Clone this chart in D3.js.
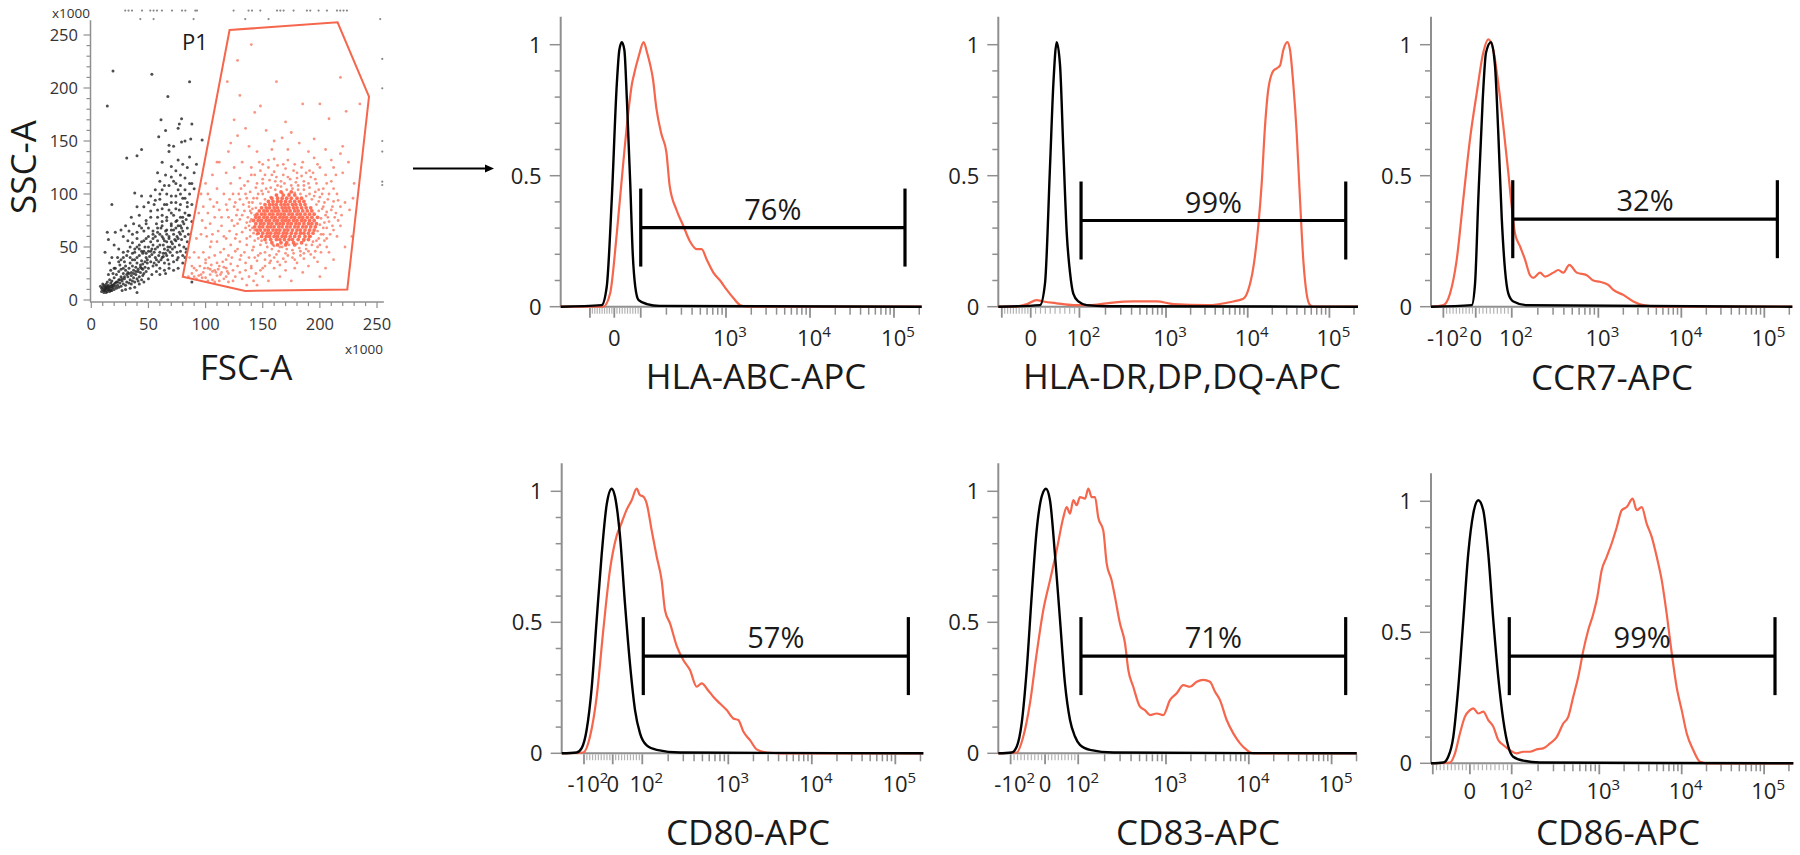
<!DOCTYPE html>
<html><head><meta charset="utf-8">
<script src="https://cdn.jsdelivr.net/npm/d3@7"></script>
<style>
body{margin:0;background:#fff}
svg{display:block}
text{font-family:"Open Sans","Noto Sans",sans-serif}
</style></head>
<body><svg id="chart" width="1800" height="855"></svg>
<script>
// ---------------- DATA ----------------
// Scatter (FSC-A vs SSC-A, x1000)
const scatterTicks = [0, 50, 100, 150, 200, 250];
const gateP1 = [[121,254.7],[215.5,262],[243,191.8],[224,10],[134.7,8.5],[80,22]];
const ungatedEvents = [
[9,8],[10,10],[11,7],[12,9],[13,11],[10,12],[12,13],[14,8],[15,10],[16,12],[11,9],[13,7],[14,13],[17,9],[18,11],[9,11],[12,11],[15,14],[16,8],[19,12],[20,10],[18,14],[21,13],[22,11],[13,15],[17,16],[20,15],[23,14],[24,12],[11,14],
[25,16],[26,13],[28,15],[27,18],[30,14],[31,17],[29,20],[33,16],[34,19],[32,22],[35,15],[36,18],[37,21],[38,17],[39,24],[40,20],[41,18],[42,22],[43,26],[44,19],[45,23],[26,22],[24,19],[22,17],[28,25],[30,28],[33,30],[35,26],[37,28],[39,31],[41,27],[43,33],[45,29],[46,25],[47,31],[48,27],[49,35],[50,30],[19,25],[17,28],[15,24],[21,30],[25,33],[29,36],[23,40],[31,42],[36,38],[40,40],[44,37],[48,40],[52,36],[54,32],[56,40],[55,45],[53,48],[50,46],[47,50],[45,44],[42,48],[38,45],[34,50],[32,56],[28,60],[36,62],[40,58],[44,55],[48,58],[52,55],[58,50],[60,45],[57,38],[62,40],[64,48],[66,55],[63,58],[60,62],[56,60],[54,65],[50,68],[46,65],[42,70],[48,75],[52,78],[57,72],[61,68],[65,65],[68,60],[70,55],[72,62],[74,68],[70,72],[66,75],[62,80],[58,85],[55,90],[60,95],[64,90],[68,85],[72,80],[75,75],[78,70],[80,65],[76,58],[73,50],[69,45],[66,42],[64,35],[60,30],[57,27],[53,24],[50,20],[46,17],[42,15],[38,12],[34,11],[30,10],[27,9],
[63,52],[67,50],[71,48],[75,45],[77,52],[79,57],[81,50],[83,45],[82,60],[84,68],[80,78],[77,85],[74,92],[70,98],[66,100],[62,104],[68,108],[72,112],[76,104],[80,96],[84,88],[86,80],[88,74],[85,62],[84,55],[83,48],[82,40],[80,35],[76,30],[72,28],[68,30],[65,25],
[78,118],[74,122],[82,115],[88,110],[90,120],[84,125],[80,128],[86,135],[92,128],[76,132],[70,126],[65,118],[60,112],[56,104],[52,98],[58,120],[62,130],[68,140],[72,145],[79,149],[87,152],[97,151],[19,216],[14,183],[53,213],[86,206],[67,192],[61,170],[79,171],[77,166],[65,160],[59,154],[68,146],[31,134],[40,136],[44,142],[82,150],[88,166],[76,162],[38,101],[18,90],[14,64],[21,64],[15,57],[12,45],[18,40],[16,35],[24,48],[20,52],[28,45],[26,38],[33,65],[37,72],[42,80],[46,88],[50,92],[44,98],[40,88],[35,78],[30,70],[26,66],[40,7],[88,17],
[54,58],[58,64],[62,70],[66,62],[70,66],[74,56],[78,62],[59,42],[63,44],[67,38],[71,42],[75,38],[36,32],[40,35],[44,30],[32,26],[28,30],[24,27],[20,21],[16,19],[14,17],[22,24],[18,18],[10,15],[8,13],[26,29],[34,35],[38,38],[42,42],[46,46],[50,50],[54,52],[58,56],[62,60],[66,66],[70,70],[74,74],[78,78],[82,82],
[12,10],[14,10],[16,10],[18,9],[13,12],[15,12],[17,13],[19,14],[21,16],[23,17],[25,19],[27,20],[29,22],[31,24],[33,25],[35,23],[37,25],[39,27],[41,29],[43,31],[45,34],[47,36],[49,38],[51,41],[53,43],[55,35],[57,33],[59,36],[61,38],[63,41],[65,44],[67,47],[69,50],[71,53],[73,57],[75,60],[77,64],[79,68],[81,72],[83,76],[85,80],
[30,32],[34,40],[38,48],[42,52],[46,56],[50,60],[54,62],[58,68],[62,74],[66,78],[70,82],[74,86],[78,90],[36,44],[40,50],[44,46],[48,44],[52,46],[56,48],[60,52],[64,56],[68,58],[72,66],[76,70],[80,74],[58,78],[62,86],[66,90],[70,92],[74,98],[78,100],[82,104],[86,100],[60,24],[64,28],[68,34],[72,36],[76,40],[78,46],[80,42],[20,30],[24,36],[28,40],[32,46],[36,54],[40,64],[44,68],[48,72],[52,84],[56,94],[60,100],[64,108],[70,116],[74,110],[78,108],[82,96],[84,92],[86,110],[90,105],[88,90]
];
const gatedEvents = [
[130,95],[135,100],[138,88],[132,80],[128,72],[135,68],[139,60],[136,52],[141,47],[146,42],[152,45],[158,48],[164,46],[170,44],[176,47],[182,49],[188,52],[194,55],[199,58],[203,62],[206,68],[208,74],[205,80],[202,86],[204,92],[200,97],[196,102],[191,106],[186,104],[181,108],[176,105],[171,104],[166,107],[161,104],[155,102],[150,100],[145,96],[141,92],[139,84],[140,76],[141,68],[143,56],[148,52],[154,50],[160,51],[167,50],[173,52],[180,53],[186,56],[192,60],[198,65],[200,71],[201,77],[199,84],[197,90],[193,95],[188,98],[183,100],[178,101],[173,100],[167,101],[162,99],[157,97],[152,95],[148,91],[144,87],[143,80],[142,63],[146,58],
[150,110],[156,113],[162,116],[168,118],[174,114],[180,115],[186,112],[192,116],[197,110],[203,105],[208,100],[212,93],[210,85],[213,78],[211,70],[209,62],[204,56],[198,50],[190,46],[183,42],[176,40],[168,39],[160,40],[152,38],[145,37],[138,40],[134,45],[130,55],[127,62],[125,70],[128,85],[126,92],[131,105],[137,112],[143,118],[148,122],[155,125],[163,127],[170,124],[177,122],[184,125],[191,122],[198,128],[205,118],[200,125],[172,132],[160,133],[150,128],[140,125],[185,130],[195,134],[210,112],[215,100],[218,88],[216,75],[222,92],[208,45],[195,40],[180,35],[165,33],[150,30],[140,32],[130,38],[188,120],[178,128],
[118,90],[112,85],[108,78],[104,72],[100,68],[96,62],[92,58],[106,62],[114,70],[120,78],[116,100],[110,105],[104,95],[98,88],[122,110],[118,120],[125,125],[132,130],[120,140],[112,130],[106,118],[100,110],[96,100],[94,82],[102,82],[110,92],[124,100],[116,60],[110,55],[104,50],[98,45],[94,40],[100,38],[108,42],[116,48],[122,52],[120,42],[126,46],
[85,22],[88,25],[90,22],[92,28],[94,23],[97,21],[98,26],[100,21],[102,30],[104,24],[106,19],[108,28],[110,23],[112,32],[114,26],[116,20],[118,30],[120,25],[122,34],[124,28],[126,22],[128,32],[115,36],[110,35],[105,33],[100,35],[95,32],[90,30],[118,22],[112,18],[102,18],[108,17],[96,24],[92,20],[88,32],[86,40],[90,45],[103,40],[120,17],[124,18],[130,26],[132,20],[135,28],[138,22],[140,30],[144,25],[148,28],[152,32],[156,35],[160,30],[150,22],[142,18],[136,14],[145,14],[155,18],[165,22],[170,28],[178,30],[185,26],[190,32],[198,36],[205,30],[212,38],[200,22],[175,18],[106,27],[111,29],[116,31],[113,24],[109,26],[119,27],[104,29],[99,30],
[140,241],[128,226],[119,206],[162,206],[218,210],[130,193],[143,177],[148,183],[170,168],[185,185],[200,185],[223,178],[235,185],[208,171],[220,145],[229,96],[226,85],[153,160],[160,150],[167,153],[175,158],[182,148],[195,152],[205,142],[135,162],[128,155],[122,148],[138,145],[145,140],[158,142],[172,142],[190,140],[210,132],[212,125],[147,130],[125,170],[110,130],
[138,70],[139,74],[137,78],[140,82],[141,86],[138,92],[142,96],[146,100],[149,103],[153,105],[157,106],[163,108],[169,110],[175,108],[181,104],[186,108],[191,100],[195,98],[199,93],[203,88],[206,83],[207,78],[204,73],[203,68],[201,62],[197,56],[193,52],[188,48],[183,46],[177,44],[171,48],[165,50],[159,52],[153,54],[149,56],[145,62],[143,66],[139,66],[136,73],[134,84],[136,96],[139,102],[144,106],[150,114],[158,118],[166,112],[172,116],[179,111],[184,117],[190,110],[196,114],[202,100],[207,95],[211,88],[214,82],[212,66],[206,58],[200,52],[196,46],[186,44],[178,38],[172,42],[162,43],[156,42],[148,44],[142,50],[136,58],[132,64],[130,76],[133,90],[129,100],[134,108],[127,80],[125,88],[145,110],[152,118],[160,121],[194,120],[199,104],[161,112],[180,120],[168,128],[155,132],[140,118],[130,115],[121,95],[119,85],[123,75],[121,65],[126,58],[118,58],[114,78],[111,65],[107,88],[102,100],[97,75],[101,60],[105,55],[113,45],[118,38],[123,40],[128,48],[131,42],[135,35],[143,40],[157,37],[163,36],[170,36],[186,39],[192,43],[201,45],[206,50],[215,60],[218,70],[219,80],[216,94],[212,105],[206,110],[214,118],[220,120],[225,130],[218,138],[230,110],[228,60],[222,50]
];
// dense core of gated population: [SSC value, list of FSC values]
const gatedCoreRows = [
[52,[163,170,178]],
[54,[158,166,171,177,184]],
[57,[152,157,162,165,169,173,176,181,186,190]],
[60,[149,153,156,160,163,167,170,174,178,182,187,191]],
[63,[146,150,154,157,161,164,168,171,175,179,183,186,190,194]],
[66,[145,148,152,155,159,162,165,169,172,176,180,183,187,191,195]],
[69,[143,147,150,154,157,160,164,167,171,174,178,181,185,188,192,196]],
[72,[144,148,151,155,158,162,165,168,172,175,179,182,186,190,193,197]],
[75,[142,146,149,153,156,160,163,167,170,173,177,180,184,187,191,195]],
[78,[144,147,151,154,158,161,165,168,171,175,178,182,185,189,193,198]],
[81,[145,149,152,156,159,163,166,169,173,176,180,183,187,191,195]],
[84,[147,151,154,158,161,164,168,171,174,178,181,185,189,193]],
[87,[149,153,156,160,163,167,170,173,177,180,184,188,192]],
[90,[152,156,159,162,166,169,172,176,179,183,187]],
[93,[155,159,163,166,170,174,178,182,186]],
[96,[158,163,167,171,175,180,184]],
[99,[162,168,173,178]],
[102,[166,175]]
];
const offscaleTop = [[29.7,273],[32.6,273],[35.6,273],[44.4,273],[51.6,273],[54.5,273],[57.5,273],[61.8,273],[70.6,273],[79.4,273],[82.3,273],[91,273],[92.5,273],[124.5,273],[137.6,273],[140.6,273],[147.9,273],[162.5,273],[165.4,273],[168.3,273],[177,273],[188.7,273],[191.6,273],[198.9,273],[206.2,273],[215,273],[217.8,273],[220.7,273],[223.7,273],
[42.9,265],[54.5,265],[89.5,265],[134.7,265],[155.1,265],[252.8,265]];
const offscaleRight = [[254.6,227.4],[254.6,199.7],[254.6,150],[254.6,140],[254.6,111.6],[254.6,108.5]];

// Histograms (x in logicle display units: 10^3 = 3, 10^4 = 4, 10^5 = 5)
const markers = ["HLA-ABC-APC","HLA-DR,DP,DQ-APC","CCR7-APC","CD80-APC","CD83-APC","CD86-APC"];
const percents = ["76%","99%","32%","57%","71%","99%"];
const xDomains = [[1.032,5.330],[0.947,5.350],[0.984,5.337],[1.005,5.335],[0.975,5.303],[0.958,5.354]];
const anchorMinus100 = [1.38,0.99,1.133,1.272,1.124,0.98];
const anchorZero = [1.670,1.344,1.523,1.616,1.540,1.430];
const anchor100 = [1.985,1.94,1.957,1.97,1.94,1.937];
const labeledTicks = [
[0,1e3,1e4,1e5],
[0,1e2,1e3,1e4,1e5],
[-1e2,0,1e2,1e3,1e4,1e5],
[-1e2,0,1e2,1e3,1e4,1e5],
[-1e2,0,1e2,1e3,1e4,1e5],
[0,1e2,1e3,1e4,1e5]
];
const yTicks = [0, 0.5, 1];
const gateRanges = [[1.985,5.131],[1.960,5.200],[1.969,5.157],[1.982,5.156],[1.973,5.170],[1.908,5.132]];
const gateLevels = [0.302,0.329,0.334,0.371,0.371,0.409];
const isotypeCurves = [
[[1.52,0.006],[1.58,0.076],[1.64,0.41],[1.70,0.85],[1.73,0.98],[1.76,1.01],[1.79,0.98],[1.82,0.79],[1.86,0.47],[1.89,0.2],[1.92,0.076],[1.96,0.025],[2.06,0.01],[2.21,0.003]],
[[1.458,0.006],[1.519,0.09],[1.580,0.535],[1.621,0.85],[1.662,1.01],[1.703,0.92],[1.743,0.6],[1.785,0.28],[1.825,0.13],[1.865,0.05],[1.927,0.02],[2.029,0.006],[2.274,0.002]],
[[1.475,0.006],[1.515,0.09],[1.554,0.41],[1.607,0.79],[1.647,0.97],[1.707,1.01],[1.755,0.92],[1.795,0.66],[1.836,0.34],[1.876,0.14],[1.916,0.05],[1.976,0.02],[2.137,0.006]],
[[1.184,0.003],[1.244,0.02],[1.304,0.09],[1.364,0.25],[1.424,0.51],[1.484,0.76],[1.544,0.95],[1.604,1.01],[1.643,0.98],[1.703,0.83],[1.763,0.57],[1.823,0.34],[1.883,0.165],[1.943,0.076],[2.023,0.03],[2.143,0.013],[2.422,0.003]],
[[1.136,0.003],[1.197,0.025],[1.257,0.114],[1.318,0.318],[1.378,0.60],[1.438,0.85],[1.499,0.98],[1.551,1.01],[1.599,0.966],[1.659,0.76],[1.720,0.51],[1.780,0.267],[1.841,0.127],[1.901,0.064],[1.961,0.032],[2.082,0.013],[2.364,0.003]],
[[1.107,0.003],[1.167,0.025],[1.228,0.10],[1.289,0.29],[1.350,0.546],[1.410,0.80],[1.471,0.953],[1.532,1.004],[1.592,0.966],[1.653,0.80],[1.714,0.546],[1.774,0.33],[1.835,0.165],[1.896,0.064],[1.956,0.025],[2.078,0.01],[2.280,0.003]]
];
const stainedCurves = [
[[1.54,0.0],[1.62,0.05],[1.70,0.28],[1.78,0.56],[1.84,0.75],[1.88,0.85],[1.90,0.88],[1.96,0.955],[2.02,1.01],[2.06,0.97],[2.10,0.92],[2.13,0.87],[2.17,0.76],[2.23,0.66],[2.29,0.59],[2.33,0.46],[2.41,0.37],[2.49,0.31],[2.57,0.25],[2.65,0.22],[2.71,0.22],[2.77,0.18],[2.85,0.13],[2.93,0.10],[3.01,0.064],[3.09,0.032],[3.17,0.006],[3.25,0.0]],
[[1.131,0.0],[1.30,0.01],[1.417,0.025],[1.498,0.02],[1.662,0.013],[1.865,0.006],[2.070,0.006],[2.274,0.013],[2.600,0.02],[2.886,0.02],[3.089,0.01],[3.498,0.006],[3.824,0.02],[3.946,0.03],[4.007,0.064],[4.069,0.15],[4.130,0.31],[4.171,0.47],[4.212,0.69],[4.252,0.83],[4.313,0.90],[4.355,0.91],[4.395,0.92],[4.436,0.98],[4.485,1.01],[4.518,0.98],[4.558,0.85],[4.600,0.66],[4.640,0.41],[4.680,0.18],[4.721,0.05],[4.763,0.006],[4.803,0.0]],
[[1.133,0.006],[1.213,0.05],[1.294,0.18],[1.373,0.41],[1.454,0.64],[1.535,0.815],[1.614,0.97],[1.675,1.02],[1.735,0.98],[1.795,0.85],[1.855,0.69],[1.916,0.51],[1.957,0.38],[1.996,0.28],[2.057,0.23],[2.117,0.18],[2.177,0.12],[2.217,0.11],[2.298,0.13],[2.358,0.115],[2.458,0.13],[2.518,0.14],[2.578,0.13],[2.651,0.16],[2.740,0.13],[2.860,0.12],[2.940,0.10],[3.020,0.095],[3.120,0.083],[3.181,0.064],[3.301,0.045],[3.422,0.02],[3.542,0.006],[3.743,0.0]],
[[1.263,0.003],[1.344,0.064],[1.424,0.216],[1.503,0.47],[1.583,0.70],[1.663,0.83],[1.723,0.88],[1.783,0.93],[1.843,0.966],[1.903,1.01],[1.943,0.985],[1.982,0.98],[2.023,0.953],[2.083,0.85],[2.143,0.75],[2.202,0.66],[2.242,0.546],[2.302,0.496],[2.382,0.41],[2.461,0.356],[2.541,0.318],[2.622,0.254],[2.681,0.267],[2.760,0.24],[2.820,0.216],[2.900,0.19],[2.981,0.165],[3.060,0.133],[3.120,0.127],[3.180,0.083],[3.260,0.05],[3.340,0.015],[3.460,0.003],[3.619,0.0]],
[[1.197,0.003],[1.277,0.064],[1.357,0.19],[1.438,0.38],[1.518,0.546],[1.599,0.66],[1.680,0.775],[1.760,0.90],[1.801,0.94],[1.841,0.915],[1.881,0.966],[1.922,0.947],[1.961,0.978],[2.022,0.972],[2.062,1.01],[2.103,0.978],[2.143,0.978],[2.182,0.90],[2.243,0.85],[2.284,0.724],[2.344,0.66],[2.384,0.597],[2.444,0.496],[2.505,0.42],[2.545,0.318],[2.605,0.254],[2.686,0.178],[2.746,0.165],[2.807,0.146],[2.888,0.152],[2.967,0.146],[3.048,0.203],[3.129,0.229],[3.209,0.26],[3.290,0.254],[3.371,0.273],[3.450,0.28],[3.531,0.273],[3.592,0.235],[3.652,0.203],[3.733,0.127],[3.813,0.076],[3.894,0.038],[3.975,0.013],[4.054,0.0]],
[[1.188,0.003],[1.249,0.038],[1.309,0.114],[1.370,0.178],[1.431,0.203],[1.471,0.21],[1.532,0.19],[1.592,0.197],[1.653,0.165],[1.714,0.14],[1.774,0.089],[1.835,0.07],[1.916,0.05],[1.998,0.038],[2.078,0.044],[2.159,0.044],[2.240,0.053],[2.320,0.057],[2.402,0.076],[2.483,0.10],[2.563,0.152],[2.624,0.178],[2.684,0.254],[2.745,0.33],[2.806,0.43],[2.867,0.51],[2.927,0.57],[2.976,0.635],[3.029,0.737],[3.090,0.788],[3.150,0.839],[3.211,0.90],[3.272,0.966],[3.333,0.978],[3.405,1.01],[3.454,0.966],[3.515,0.978],[3.575,0.915],[3.636,0.864],[3.697,0.788],[3.757,0.70],[3.818,0.57],[3.879,0.42],[3.939,0.29],[4.000,0.203],[4.061,0.114],[4.141,0.05],[4.222,0.006],[4.303,0.0]]
];

// ---------------- LAYOUT ----------------
const panelLayout = [
{x0:560.7,x1:921.7,y0:306.7,tickBase:346,titleX:756,titleY:389},
{x0:998.3,x1:1358,y0:306.7,tickBase:346,titleX:1182,titleY:389},
{x0:1431,x1:1792.3,y0:306.7,tickBase:346,titleX:1612,titleY:390},
{x0:561.7,x1:923.3,y0:753.3,tickBase:792,titleX:748,titleY:845},
{x0:998.3,x1:1356.7,y0:753.3,tickBase:792,titleX:1198,titleY:845},
{x0:1431,x1:1793.3,y0:763.3,tickBase:799,titleX:1618,titleY:845}
];
const yUnit = 262, yMax = 1.107;
const RED = "#f5664c", AXIS = "#8f8f8f", TXT = "#1a1a1a";

const svg = d3.select("#chart");

// ---------------- SCATTER ----------------
const sx = d3.scaleLinear().domain([0,250]).range([91.3,377]);
const sy = d3.scaleLinear().domain([0,250]).range([300,35]);
const sc = svg.append("g");
sc.append("line").attr("x1",90.5).attr("x2",90.5).attr("y1",sy(-2)).attr("y2",sy(264)).attr("stroke",AXIS).attr("stroke-width",1.5);
sc.append("line").attr("x1",90).attr("x2",sx(256)).attr("y1",sy(-2)).attr("y2",sy(-2)).attr("stroke",AXIS).attr("stroke-width",1.5);
d3.range(0,260,10).forEach(v=>{
  const major = v%50===0;
  sc.append("line").attr("x1",sx(v)).attr("x2",sx(v)).attr("y1",sy(-2)).attr("y2",sy(-2)+(major?6:4)).attr("stroke",AXIS).attr("stroke-width",1.2);
  sc.append("line").attr("y1",sy(v)).attr("y2",sy(v)).attr("x1",90.5).attr("x2",90.5-(major?7:4)).attr("stroke",AXIS).attr("stroke-width",1.2);
});
scatterTicks.forEach(v=>{
  sc.append("text").attr("x",sx(v)).attr("y",330).attr("text-anchor","middle").attr("font-size",16.5).attr("fill","#333").text(v);
  sc.append("text").attr("x",78).attr("y",sy(v)+6).attr("text-anchor","end").attr("font-size",16.5).attr("fill","#333").text(v);
});
sc.append("text").attr("x",90).attr("y",18).attr("text-anchor","end").attr("font-size",13.5).attr("fill","#333").text("x1000");
sc.append("text").attr("x",383).attr("y",354).attr("text-anchor","end").attr("font-size",13.5).attr("fill","#333").text("x1000");
sc.append("text").attr("transform","translate(36,167) rotate(-90)").attr("text-anchor","middle").attr("font-size",35).attr("fill",TXT).text("SSC-A");
sc.append("text").attr("x",246).attr("y",380).attr("text-anchor","middle").attr("font-size",35).attr("fill",TXT).text("FSC-A");

sc.selectAll(".off").data(offscaleTop.concat(offscaleRight)).enter().append("circle")
  .attr("cx",d=>sx(d[0])).attr("cy",d=>sy(d[1])).attr("r",1.1).attr("fill","#8a8a8a");
sc.selectAll(".ug").data(ungatedEvents).enter().append("circle")
  .attr("cx",d=>sx(d[0])).attr("cy",d=>sy(d[1])).attr("r",1.5).attr("fill","#222").attr("opacity",0.8);
sc.selectAll(".g").data(gatedEvents).enter().append("circle")
  .attr("cx",d=>sx(d[0])).attr("cy",d=>sy(d[1])).attr("r",1.4).attr("fill",RED).attr("opacity",0.7);
const corePts = gatedCoreRows.flatMap(r=>r[1].map(x=>[x,r[0]]));
sc.selectAll(".c").data(corePts).enter().append("circle")
  .attr("cx",d=>sx(d[0])).attr("cy",d=>sy(d[1])).attr("r",1.9).attr("fill","#ff6347").attr("opacity",0.9);
sc.append("path").attr("d", d3.line().x(d=>sx(d[0])).y(d=>sy(d[1]))(gateP1)+"Z")
  .attr("fill","none").attr("stroke",RED).attr("stroke-width",2);
sc.append("text").attr("x",182).attr("y",50).attr("font-size",22).attr("fill",TXT).text("P1");

// arrow
svg.append("line").attr("x1",413).attr("x2",487).attr("y1",168.5).attr("y2",168.5).attr("stroke","#000").attr("stroke-width",1.8);
svg.append("path").attr("d","M494,168.5 L485,164.5 L485,172.5 Z").attr("fill","#000");

// ---------------- HISTOGRAMS ----------------
function toDisplay(v,i){
  if(v>=1000) return Math.log10(v);
  if(v>=100) return anchor100[i] + (Math.log10(v)-2)*(3-anchor100[i]);
  if(v>=0) return anchorZero[i] + v/100*(anchor100[i]-anchorZero[i]);
  return anchorZero[i] + v/100*(anchorZero[i]-anchorMinus100[i]);
}

markers.forEach((name,i)=>{
  const L = panelLayout[i];
  const g = svg.append("g");
  const x = d3.scaleLinear().domain(xDomains[i]).range([L.x0,L.x1]);
  const y = d3.scaleLinear().domain([0,yMax]).range([L.y0, L.y0 - yMax*yUnit]);

  g.append("line").attr("x1",L.x0).attr("x2",L.x0).attr("y1",L.y0).attr("y2",y(yMax)).attr("stroke",AXIS).attr("stroke-width",2);
  g.append("line").attr("x1",L.x0).attr("x2",L.x1).attr("y1",L.y0).attr("y2",L.y0).attr("stroke",AXIS).attr("stroke-width",2);

  d3.range(0,11).forEach(k=>{
    const v=k/10, major = (k%5===0);
    g.append("line").attr("x1",L.x0).attr("x2",L.x0-(major?11:6)).attr("y1",y(v)).attr("y2",y(v)).attr("stroke",AXIS).attr("stroke-width",1.5);
  });
  yTicks.forEach(v=>{
    g.append("text").attr("x",L.x0-19).attr("y",y(v)+8).attr("text-anchor","end").attr("font-size",22).attr("fill","#222").text(v);
  });

  const dom = xDomains[i];
  const inDom = d=> d>=dom[0]-1e-6 && d<=dom[1]+1e-6;
  d3.range(-90,100,10).filter(v=>v!==0).forEach(v=>{
    const d = toDisplay(v,i); if(!inDom(d)) return;
    g.append("line").attr("x1",x(d)).attr("x2",x(d)).attr("y1",L.y0+1).attr("y2",L.y0+7).attr("stroke","#b4b4b4").attr("stroke-width",1.2);
  });
  [100,1000,10000,100000].forEach(base=>{
    d3.range(2,10).forEach(m=>{
      const d = toDisplay(m*base,i); if(!inDom(d)) return;
      g.append("line").attr("x1",x(d)).attr("x2",x(d)).attr("y1",L.y0+1).attr("y2",L.y0+8).attr("stroke",AXIS).attr("stroke-width",1.5);
    });
  });
  [-100,0,100,1000,10000,100000].forEach(v=>{
    const d = toDisplay(v,i); if(!inDom(d)) return;
    g.append("line").attr("x1",x(d)).attr("x2",x(d)).attr("y1",L.y0+1).attr("y2",L.y0+11).attr("stroke",AXIS).attr("stroke-width",1.8);
  });
  labeledTicks[i].forEach(v=>{
    const d = toDisplay(v,i);
    const t = g.append("text").attr("x",x(d)).attr("y",L.tickBase).attr("text-anchor","middle").attr("font-size",22).attr("fill","#222");
    if(v===0){ t.text("0"); return; }
    const e = Math.round(Math.log10(Math.abs(v)));
    t.attr("dx",4);
    t.append("tspan").text((v<0?"-":"")+"10");
    t.append("tspan").attr("font-size",15).attr("dy",-9).text(String(e));
  });

  const line = d3.line().x(p=>x(p[0])).y(p=>y(p[1])).curve(d3.curveMonotoneX);
  const full = c => [[dom[0],0]].concat(c).concat([[dom[1],0]]);
  g.append("path").attr("d",line(full(stainedCurves[i]))).attr("fill","none").attr("stroke",RED).attr("stroke-width",2.2).attr("stroke-linejoin","round");
  g.append("path").attr("d",line(full(isotypeCurves[i]))).attr("fill","none").attr("stroke","#000").attr("stroke-width",2.4).attr("stroke-linejoin","round");

  const gy = y(gateLevels[i]);
  const [ga,gb] = gateRanges[i];
  g.append("line").attr("x1",x(ga)).attr("x2",x(gb)).attr("y1",gy).attr("y2",gy).attr("stroke","#000").attr("stroke-width",3.2);
  [ga,gb].forEach(d=>g.append("line").attr("x1",x(d)).attr("x2",x(d)).attr("y1",gy-39).attr("y2",gy+39).attr("stroke","#000").attr("stroke-width",3.2));
  g.append("text").attr("x",(x(ga)+x(gb))/2).attr("y",gy-8).attr("text-anchor","middle").attr("font-size",29).attr("fill",TXT).text(percents[i]);

  g.append("text").attr("x",L.titleX).attr("y",L.titleY).attr("text-anchor","middle").attr("font-size",35).attr("fill",TXT).text(name);
});
</script>
</body></html>
